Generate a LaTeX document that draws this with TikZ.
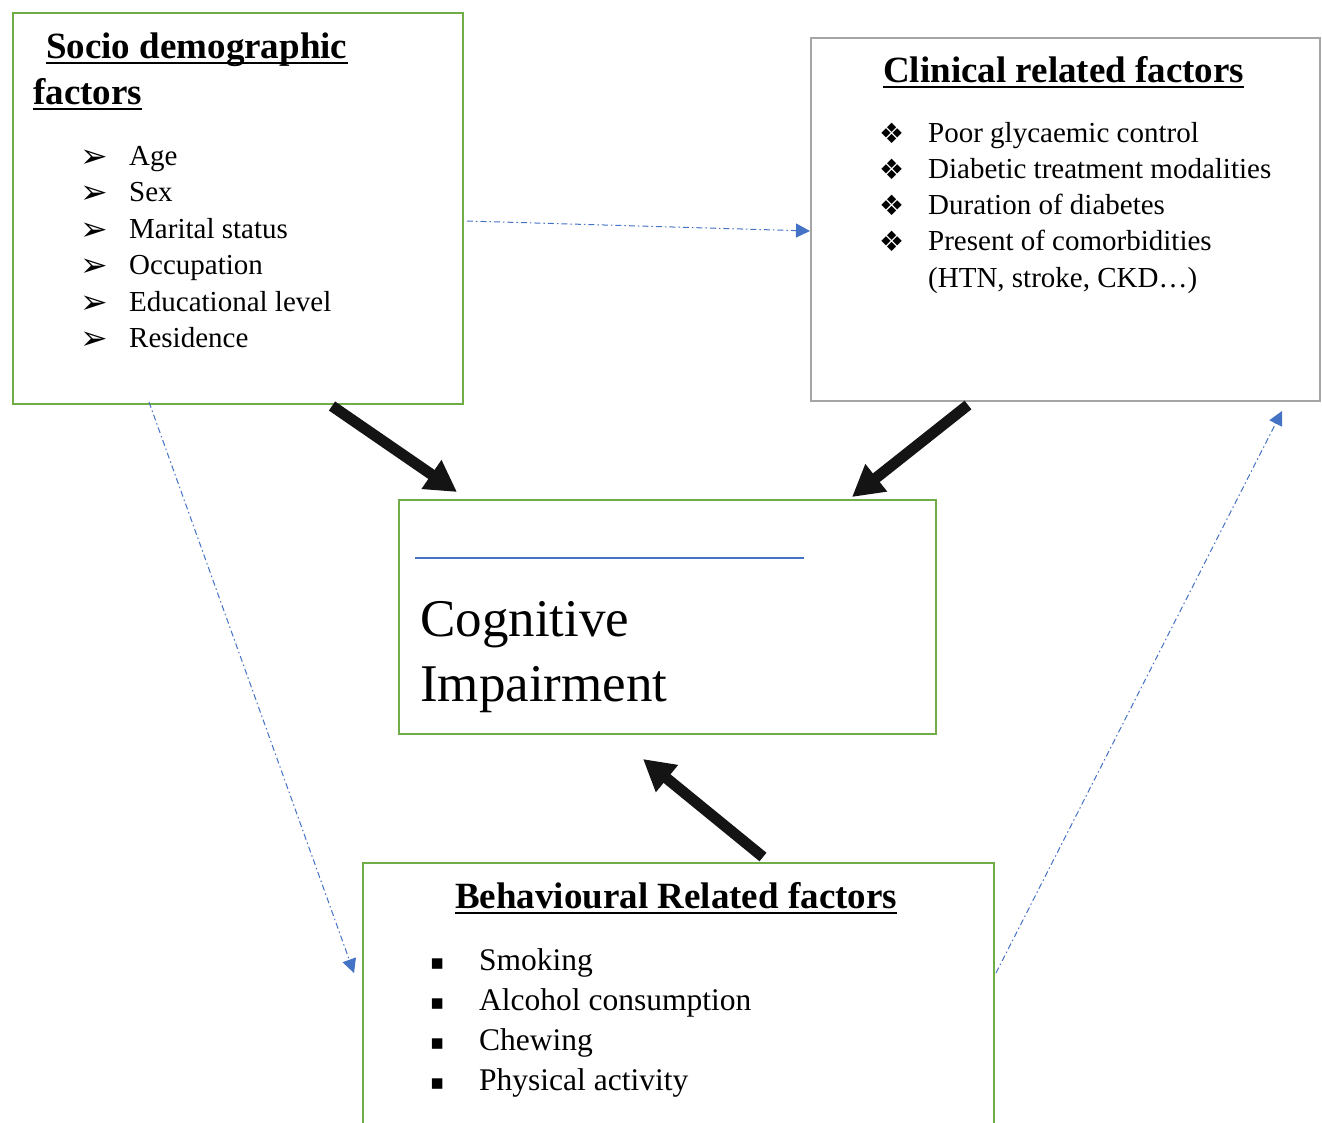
\documentclass[tikz,border=0pt]{standalone}
\usepackage{fontspec}
\setmainfont{Liberation Serif}
\newfontfamily\symfont{DejaVu Sans}
\usetikzlibrary{arrows.meta}

\definecolor{boxgreen}{HTML}{70AD47}
\definecolor{boxgrey}{HTML}{A5A5A5}
\definecolor{linkblue}{HTML}{4472C4}

\tikzset{
  greenbox/.style={draw=boxgreen, line width=2pt, rectangle, inner sep=0pt, anchor=north west},
  greybox/.style={draw=boxgrey, line width=2pt, rectangle, inner sep=0pt, anchor=north west},
  title/.style={anchor=base west, inner sep=0pt, font=\fontsize{37pt}{46pt}\selectfont\bfseries},
  item/.style={anchor=base west, inner sep=0pt, font=\fontsize{29pt}{36pt}\selectfont},
  bigitem/.style={anchor=base west, inner sep=0pt, font=\fontsize{31.5pt}{40pt}\selectfont},
  bul/.style={anchor=base west, inner sep=0pt, font=\symfont\fontsize{21pt}{24pt}\selectfont},
  ulrule/.style={line width=2.6pt},
  bigarrow/.style={draw=black!92, line width=11pt, -{Triangle[length=31pt,width=33pt]}},
  dasharrow/.style={draw=linkblue, line width=1pt, dash pattern=on 6pt off 3pt on 1.5pt off 3pt,
    -{Triangle[length=14pt,width=14pt]}}
}

\begin{document}
\begin{tikzpicture}[x=1pt,y=-1pt]
  \clip (0,0) rectangle (1322,1122);

  % boxes
  \node[greenbox, minimum width=450pt, minimum height=391pt] (socio) at (12,12) {};
  \node[greybox, minimum width=509pt, minimum height=363pt] (clin) at (810,37) {};
  \node[greenbox, minimum width=537pt, minimum height=234pt] (cog) at (398,499) {};
  \node[greenbox, minimum width=631pt, minimum height=300pt] (behav) at (362,862) {};

  % socio demographic
  \node[title] (sdtitle) at (46,58) {Socio demographic};
  \node[title] (sdtitle2) at (33,104) {factors};
  \foreach \txt [count=\i from 0] in {Age,Sex,Marital status,Occupation,Educational level,Residence}{
    \node[bul, font=\symfont\fontsize{33pt}{36pt}\selectfont] (sdb\i) at (80,{167+36.5*\i}) {➢};
    \node[item] (sd\i) at (129,{165+36.5*\i}) {\txt};
  }

  % clinical
  \node[title] (cltitle) at (883,82) {Clinical related factors};
  \foreach \txt [count=\i from 0] in {Poor glycaemic control,Diabetic treatment modalities,
      Duration of diabetes,Present of comorbidities}{
    \node[bul, font=\symfont\fontsize{28pt}{30pt}\selectfont] (clb\i) at (879,{143+36.3*\i}) {❖};
    \node[item] (cl\i) at (928,{142+36.3*\i}) {\txt};
  }
  \node[item] (cl4) at (928,287) {(HTN, stroke, CKD…)};

  % cognitive impairment
  \draw[linkblue, line width=2pt] (415,558) -- (804,558);
  \node[anchor=base west, inner sep=0pt, font=\fontsize{53pt}{65pt}\selectfont] (cog1) at (420,636) {Cognitive};
  \node[anchor=base west, inner sep=0pt, font=\fontsize{53pt}{65pt}\selectfont] (cog2) at (420,701) {Impairment};

  % behavioural
  \node[title] (bhtitle) at (455,908) {Behavioural Related factors};
  \foreach \txt [count=\i from 0] in {Smoking,Alcohol consumption,Chewing,Physical activity}{
    \node[bul] (bhb\i) at (430,{969+40*\i}) {▪};
    \node[bigitem] (bh\i) at (479,{970+40*\i}) {\txt};
  }

  % underlines of the headings
  \foreach \n in {sdtitle,sdtitle2,cltitle,bhtitle}
    \draw[ulrule] ([yshift=-5pt]\n.base west) -- ([yshift=-5pt]\n.base east);

  % thick arrows into the outcome
  \draw[bigarrow] ([xshift=94pt,yshift=-1pt]socio.south) -- ([xshift=-210.5pt,yshift=7pt]cog.north);
  \draw[bigarrow] ([xshift=-97.5pt,yshift=-3pt]clin.south) -- ([xshift=184.5pt,yshift=2pt]cog.north);
  \draw[bigarrow] ([xshift=84.5pt,yshift=5pt]behav.north) -- ([xshift=-24.5pt,yshift=-24pt]cog.south);

  % dashed links between the factor groups
  \draw[dasharrow] ([xshift=3pt,yshift=-12.5pt]socio.east) -- ([yshift=-11.5pt]clin.west);
  \draw[dasharrow] ([xshift=-89pt,yshift=3pt]socio.south) -- ([xshift=-8pt,yshift=40pt]behav.west);
  \draw[dasharrow] ([xshift=1pt,yshift=40pt]behav.east) -- ([xshift=-39pt,yshift=-9pt]clin.south east);
\end{tikzpicture}
\end{document}
